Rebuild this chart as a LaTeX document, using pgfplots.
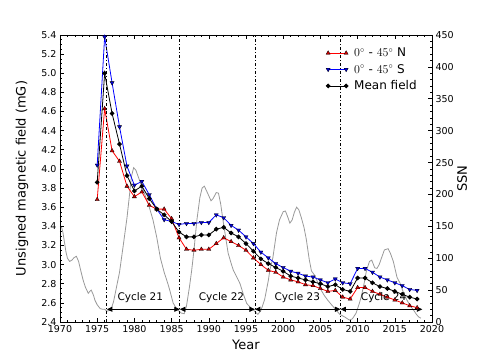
\documentclass[border=0pt]{standalone}
\usepackage{fontspec}
\setmainfont{DejaVu Sans}
\usepackage{pgfplots}
\pgfplotsset{compat=1.18}
\usepackage{pgfplotstable}
\usetikzlibrary{arrows.meta}

\definecolor{ssngray}{gray}{0.6}

% yearly unsigned field (mG): north, south and mean
\pgfplotstableread{
year north south mean
1975 3.68 4.04 3.86
1976 4.63 5.38 5.00
1977 4.19 4.90 4.58
1978 4.08 4.44 4.26
1979 3.82 4.03 3.93
1980 3.71 3.83 3.77
1981 3.76 3.87 3.82
1982 3.62 3.73 3.69
1983 3.58 3.58 3.58
1984 3.58 3.47 3.52
1985 3.48 3.45 3.45
1986 3.28 3.42 3.34
1987 3.16 3.43 3.29
1988 3.15 3.43 3.29
1989 3.16 3.44 3.31
1990 3.16 3.44 3.31
1991 3.22 3.52 3.37
1992 3.28 3.49 3.39
1993 3.24 3.41 3.33
1994 3.20 3.36 3.29
1995 3.15 3.29 3.22
1996 3.07 3.22 3.14
1997 3.00 3.13 3.06
1998 2.94 3.07 3.01
1999 2.92 3.01 2.97
2000 2.87 2.97 2.93
2001 2.84 2.93 2.88
2002 2.82 2.91 2.86
2003 2.79 2.88 2.84
2004 2.78 2.87 2.82
2005 2.75 2.84 2.80
2006 2.72 2.81 2.77
2007 2.73 2.85 2.79
2008 2.66 2.81 2.74
2009 2.64 2.80 2.72
2010 2.76 2.96 2.86
2011 2.76 2.96 2.86
2012 2.72 2.92 2.81
2013 2.69 2.87 2.77
2014 2.66 2.84 2.75
2015 2.63 2.81 2.72
2016 2.60 2.78 2.69
2017 2.57 2.74 2.66
2018 2.55 2.73 2.64
}\field

% smoothed sunspot number
\pgfplotstableread{
year ssn
1970.0 150
1970.2 149
1970.4 140
1970.6 125
1970.8 110
1971.0 100
1971.3 95
1971.6 97
1971.9 101
1972.2 103
1972.5 95
1972.8 80
1973.1 66
1973.4 55
1973.8 45
1974.0 48
1974.2 50
1974.5 42
1974.7 34
1975.0 27
1975.4 21
1975.7 20
1976.0 20
1976.3 17
1976.6 18
1976.9 21
1977.2 32
1977.6 55
1978.0 78
1978.5 120
1979.0 163
1979.3 195
1979.6 228
1979.9 242
1980.2 238
1980.6 225
1981.0 212
1981.4 200
1982.0 180
1982.5 160
1983.0 133
1983.5 100
1984.0 78
1984.5 60
1984.75 50
1985.2 30
1985.7 20
1986.3 14
1986.7 13
1987.0 25
1987.4 55
1987.7 81
1988.0 112
1988.4 160
1988.8 195
1989.1 210
1989.4 213
1989.8 203
1990.3 190
1990.6 194
1991.0 203
1991.3 202
1991.6 185
1991.9 160
1992.3 130
1992.6 108
1993.0 92
1993.3 81
1993.7 72
1994.2 60
1994.6 45
1995.1 29
1995.5 24
1995.9 20
1996.3 15
1996.6 12
1997.0 18
1997.5 35
1998.0 65
1998.2 81
1998.6 100
1999.1 140
1999.5 160
2000.0 173
2000.3 174
2000.6 165
2000.9 155
2001.2 160
2001.5 172
2001.8 180
2002.1 176
2002.45 163
2002.8 148
2003.1 130
2003.5 98
2003.8 80
2004.3 72
2004.7 60
2005.1 50
2005.5 42
2006.0 34
2006.5 27
2007.1 19
2007.6 12
2008.25 8
2008.9 3
2009.3 5
2009.8 14
2010.2 28
2010.5 40
2010.9 62
2011.2 81
2011.6 95
2011.9 97
2012.3 85
2012.6 84
2012.9 90
2013.2 100
2013.6 113
2014.1 115
2014.4 108
2014.8 95
2015.3 70
2015.7 61
2016.1 48
2016.6 35
2017.1 25
2017.5 19
2017.9 12
2018.2 8
2018.5 6
}\ssn

\begin{document}
\begin{tikzpicture}
\pgfplotsset{
  every axis/.append style={
    width=372pt, height=287pt, scale only axis,
    xmin=1970, xmax=2020,
    axis line style={line width=0.8pt},
    major tick length=4pt, minor tick length=2pt,
    every tick/.style={black, line width=0.6pt},
    tick label style={font=\fontsize{9.5}{11}\selectfont},
    label style={font=\fontsize{13}{15}\selectfont},
    /pgf/number format/assume math mode=true,
  },
}
% sunspot number, right axis
\begin{axis}[
    name=ssnax,
    ymin=0, ymax=450,
    axis y line*=right,
    axis x line=none,
    ytick={0,50,...,450},
    minor y tick num=4,
    ylabel={SSN},
    ylabel style={at={(axis description cs:1.081,0.5)}, anchor=center},
]
\addplot[ssngray, line width=0.8pt] table[x=year, y=ssn] {\ssn};
\end{axis}
% magnetic field, left axis
\begin{axis}[
    name=main,
    ymin=2.4, ymax=5.4,
    ytick={2.4,2.6,...,5.41},
    xtick={1970,1975,...,2020},
    minor x tick num=4,
    minor y tick num=3,
    ytick pos=left,
    xtick pos=both,
    xticklabel pos=lower,
    xticklabel style={/pgf/number format/1000 sep={}},
    yticklabel style={/pgf/number format/.cd, fixed, fixed zerofill, precision=1},
    xlabel={Year},
    ylabel={Unsigned magnetic field (mG)},
    xlabel style={at={(axis description cs:0.5,-0.080)}, anchor=center},
    ylabel style={at={(axis description cs:-0.102,0.5)}, anchor=center},
    legend style={at={(0.712,0.966)}, anchor=north west, draw=none, fill=none,
      font=\fontsize{12}{14}\selectfont, row sep=2pt, column sep=4pt, inner sep=1pt,
      legend cell align=left},
    legend image code/.code={\draw[#1] plot coordinates {(0pt,0pt) (18pt,0pt)};},
]
\addplot[red, line width=0.8pt, mark=triangle*, mark size=2.4pt,
  mark options={fill=red!80!black, draw=black, line width=0.3pt}]
  table[x=year, y=north] {\field};
\addlegendentry{$0^{\circ}$ - $45^{\circ}$ N}
\addplot[blue, line width=0.8pt, mark=triangle*, mark size=2.4pt,
  mark options={rotate=180, fill=blue!85!black, draw=black, line width=0.3pt}]
  table[x=year, y=south] {\field};
\addlegendentry{$0^{\circ}$ - $45^{\circ}$ S}
\addplot[black, line width=0.8pt, mark=*, mark size=1.9pt]
  table[x=year, y=mean] {\field};
\addlegendentry{Mean field}

% cycle minima
\addplot[forget plot, black, line width=0.8pt, dash pattern=on 3pt off 2pt on 1pt off 2pt]
  coordinates {(1976.3,2.4) (1976.3,5.4)};
\addplot[forget plot, black, line width=0.8pt, dash pattern=on 3pt off 2pt on 1pt off 2pt]
  coordinates {(1986.1,2.4) (1986.1,5.4)};
\addplot[forget plot, black, line width=0.8pt, dash pattern=on 3pt off 2pt on 1pt off 2pt]
  coordinates {(1996.2,2.4) (1996.2,5.4)};
\addplot[forget plot, black, line width=0.8pt, dash pattern=on 3pt off 2pt on 1pt off 2pt]
  coordinates {(2007.7,2.4) (2007.7,5.4)};

% cycle arrows
\pgfplotsset{cyc/.style={forget plot, black, line width=0.9pt,
  {Triangle[length=5.5pt,width=5pt]}-{Triangle[length=5.5pt,width=5pt]}}}
\addplot[cyc] coordinates {(1976.3,2.533) (1986.1,2.533)};
\addplot[cyc] coordinates {(1986.1,2.533) (1996.2,2.533)};
\addplot[cyc] coordinates {(1996.2,2.533) (2007.7,2.533)};
\addplot[cyc] coordinates {(2007.7,2.533) (2018.7,2.533)};
\node[font=\fontsize{10.5}{12}\selectfont] at (axis cs:1980.8,2.651) {Cycle 21};
\node[font=\fontsize{10.5}{12}\selectfont] at (axis cs:1991.7,2.651) {Cycle 22};
\node[font=\fontsize{10.5}{12}\selectfont] at (axis cs:2001.9,2.651) {Cycle 23};
\node[font=\fontsize{10.5}{12}\selectfont] at (axis cs:2013.5,2.651) {Cycle 24};
\end{axis}
\pgfresetboundingbox
\path ([xshift=-60pt,yshift=-36pt]main.south west) rectangle ([xshift=46pt,yshift=35pt]main.north east);
\end{tikzpicture}
\end{document}
